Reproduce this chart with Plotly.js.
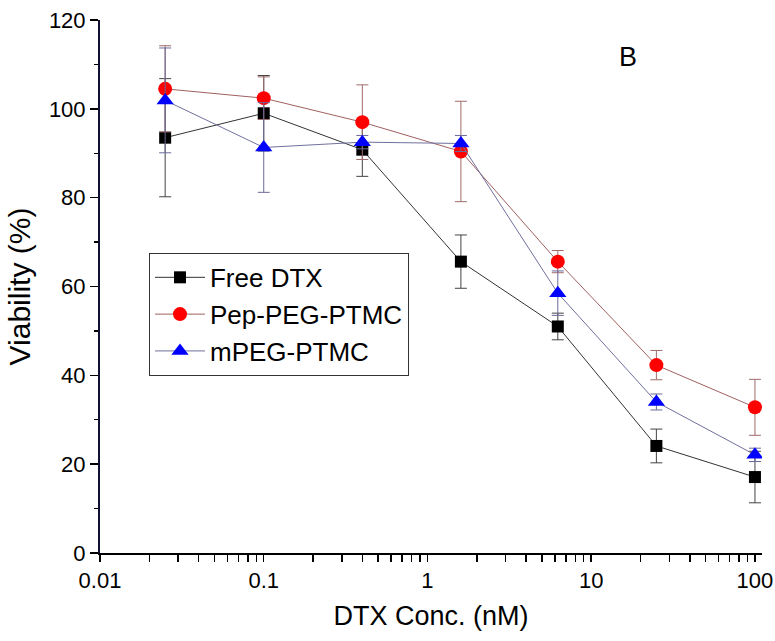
<!DOCTYPE html>
<html>
<head>
<meta charset="utf-8">
<script src="https://cdn.plot.ly/plotly-3.0.1.min.js"></script>
<style>
html,body{margin:0;padding:0;background:#fff;}
#chart{width:775px;height:641px;}
</style>
</head>
<body>
<div id="chart"></div>
<script>
// Data
const concentrations = [0.025, 0.1, 0.4, 1.6, 6.25, 25, 100];
const seriesNames = ["Free DTX", "Pep-PEG-PTMC", "mPEG-PTMC"];
const freeDTX = [93.5, 99.0, 90.8, 65.6, 51.0, 24.1, 17.1];
const freeDTXErr = [13.3, 8.5, 6.0, 6.0, 3.0, 3.8, 5.8];
const pepPEG = [104.5, 102.4, 97.0, 90.4, 65.6, 42.3, 32.8];
const pepPEGErr = [9.7, 4.8, 8.4, 11.3, 2.5, 3.3, 6.3];
const mPEG = [101.9, 91.3, 92.5, 92.2, 58.5, 34.0, 22.1];
const mPEGErr = [11.8, 10.1, 1.5, 1.8, 5.0, 1.8, 1.5];
const xTickVals = [0.01, 0.1, 1, 10, 100];
const xTickText = ["0.01", "0.1", "1", "10", "100"];
const xMinorVals = [0.02,0.03,0.04,0.05,0.06,0.07,0.08,0.09,
                    0.2,0.3,0.4,0.5,0.6,0.7,0.8,0.9,
                    2,3,4,5,6,7,8,9,
                    20,30,40,50,60,70,80,90];
const panelLabel = "B";

const FONT = "Liberation Sans, Arial, sans-serif";

const allTickVals = xTickVals.concat(xMinorVals);
const allTickText = xTickText.concat(xMinorVals.map(() => ""));

function mk(name, y, err, lineColor, errColor, symbol, mColor, mSize) {
  return {
    type: "scatter", mode: "lines+markers", name: name,
    x: concentrations, y: y,
    line: {color: lineColor, width: 1},
    marker: {symbol: symbol, color: mColor, size: mSize, line: {width: 0}},
    error_y: {type: "data", array: err, visible: true, color: errColor, thickness: 1, width: 6}
  };
}

const traces = [
  mk(seriesNames[0], freeDTX, freeDTXErr, "#333333", "#444444", "square", "#000000", 12),
  mk(seriesNames[1], pepPEG, pepPEGErr, "#a06060", "#a06a6a", "circle", "#ff0000", 14),
  mk(seriesNames[2], mPEG, mPEGErr, "#7070a0", "#6a6a9a", "triangle-up", "#0000ff", 15)
];

const layout = {
  width: 775, height: 641,
  margin: {l: 100, r: 13, t: 20, b: 88},
  paper_bgcolor: "#ffffff", plot_bgcolor: "#ffffff",
  font: {family: FONT, color: "#000"},
  showlegend: true,
  legend: {
    x: 0.074, y: 0.563, xanchor: "left", yanchor: "top",
    bgcolor: "rgba(255,255,255,1)", bordercolor: "#333", borderwidth: 1,
    font: {family: FONT, size: 26, color: "#000"},
    tracegroupgap: 0, itemwidth: 50
  },
  xaxis: {
    type: "log", range: [-2, 2.043],
    tickvals: allTickVals, ticktext: allTickText,
    ticks: "outside", ticklen: 7, tickwidth: 1.5, tickcolor: "#000",
    showline: true, linecolor: "#000", linewidth: 2,
    showgrid: false, zeroline: false,
    tickfont: {family: FONT, size: 22, color: "#000"},
    title: {text: "DTX Conc. (nM)", font: {family: FONT, size: 27, color: "#000"}, standoff: 14}
  },
  yaxis: {
    range: [0, 120], dtick: 20, tick0: 0,
    ticks: "outside", ticklen: 8, tickwidth: 1.5, tickcolor: "#000",
    minor: {ticks: "outside", ticklen: 4, tickwidth: 1.2, tickcolor: "#000", dtick: 10, showgrid: false},
    showline: true, linecolor: "#111133", linewidth: 2,
    showgrid: false, zeroline: false,
    tickfont: {family: FONT, size: 22, color: "#000"},
    title: {text: "Viability (%)", font: {family: FONT, size: 30, color: "#000"}, standoff: 9}
  },
  annotations: [{
    text: panelLabel, xref: "paper", yref: "paper",
    x: (628 - 100) / 662, y: (553 - 57) / 533,
    xanchor: "center", yanchor: "middle", showarrow: false,
    font: {family: FONT, size: 27, color: "#000"}
  }]
};

Plotly.newPlot("chart", traces, layout, {displayModeBar: false, staticPlot: true});
</script>
</body>
</html>
